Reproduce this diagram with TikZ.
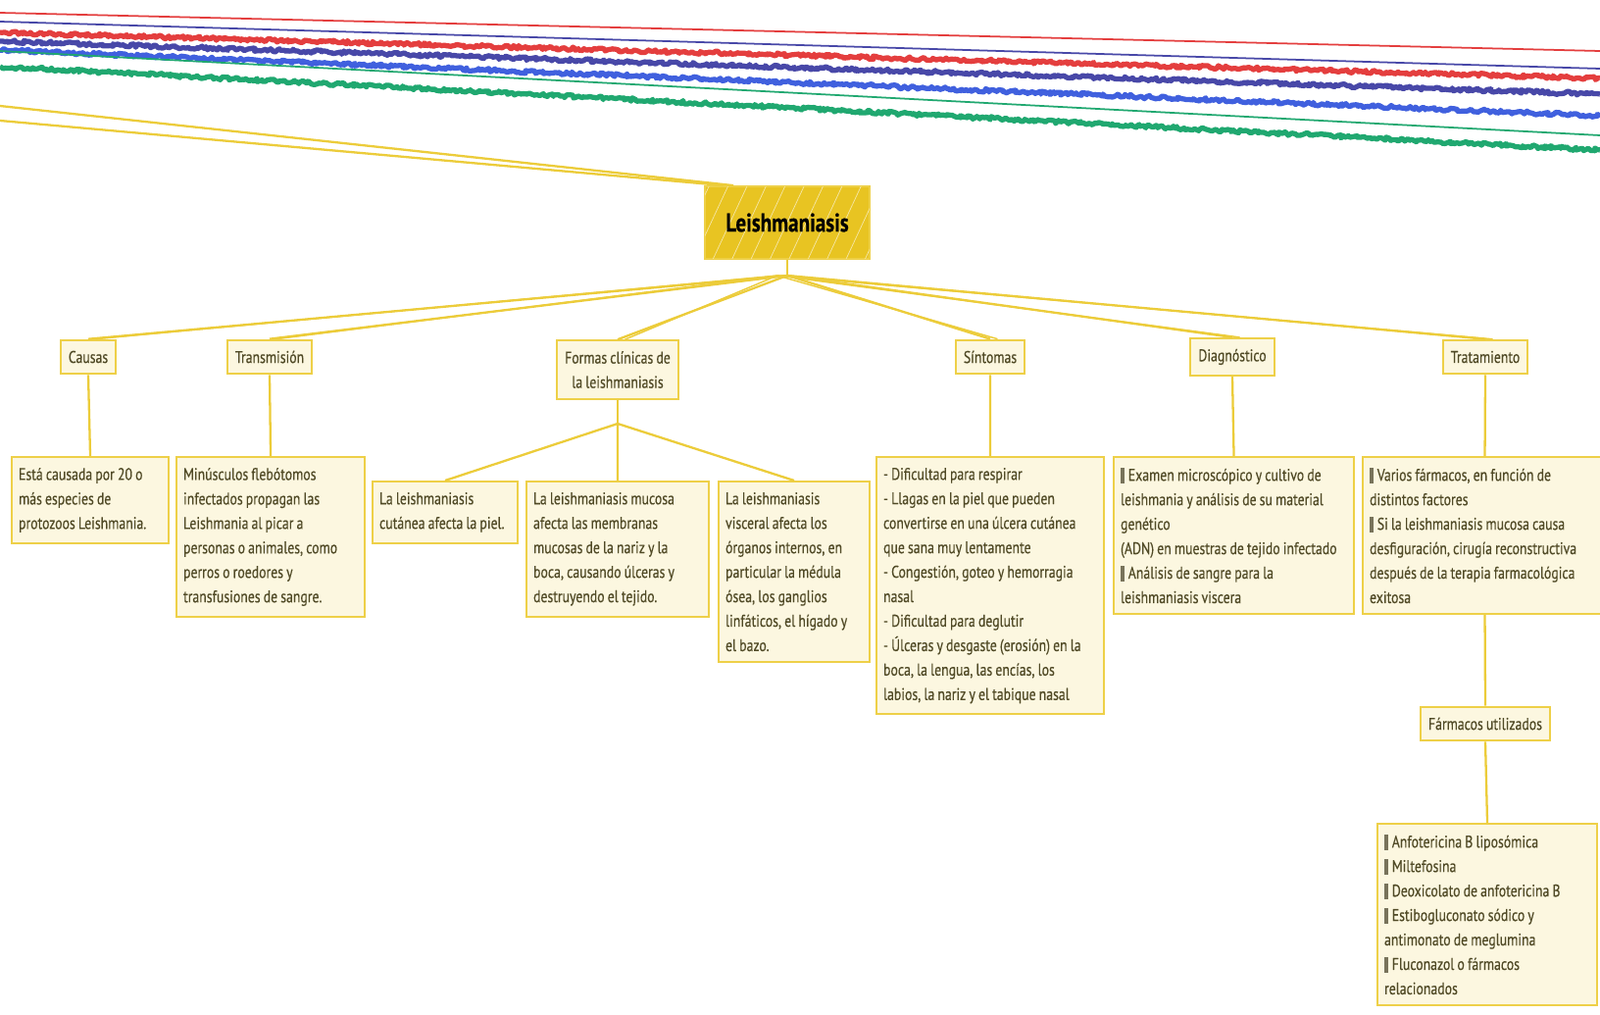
\documentclass[tikz,border=0pt]{standalone}
\usepackage{fontspec}
\setmainfont{PT Sans}[FakeStretch=0.8,WordSpace=0.85,FakeBold=0.4]
\usetikzlibrary{positioning,patterns.meta,decorations.pathmorphing}
\definecolor{mapgold}{RGB}{232,196,34}
\definecolor{mapedge}{RGB}{238,208,72}
\definecolor{mapfill}{RGB}{252,247,224}
\definecolor{maptext}{RGB}{80,74,38}
\definecolor{linkcol}{RGB}{236,204,58}
\definecolor{bulcol}{RGB}{120,115,90}
\definecolor{topred}{RGB}{228,62,62}
\definecolor{topnavy}{RGB}{72,72,168}
\definecolor{topblue}{RGB}{64,96,222}
\definecolor{topgreen}{RGB}{32,168,112}
\newcommand{\bul}{\textcolor{bulcol}{\rule[-1.5pt]{2.4pt}{9pt}}\hspace{2pt}}

\begin{document}
\begin{tikzpicture}[x=0.02cm,y=-0.02cm,
    rootbox/.style={draw=mapedge, fill=mapgold, line width=1pt, text=black,
      font=\fontsize{15}{18}\selectfont\bfseries,
      minimum width=3.36cm, minimum height=1.48cm,
      postaction={pattern={Lines[angle=65,distance=10pt,line width=0.4pt]}, pattern color=mapgold!40!white}},
    topicbox/.style={draw=mapedge, fill=mapfill, line width=1.2pt, text=maptext,
      font=\fontsize{9.8}{14.2}\selectfont, inner xsep=0.16cm, inner ysep=0.22cm, align=center},
    notebox/.style={topicbox, inner xsep=0.14cm, align=flush left, anchor=north west},
    link/.style={draw=linkcol, line width=1.3pt},
    thinline/.style={line width=1pt},
    jagged/.style={line width=3pt, line join=round, decorate,
      decoration={random steps, segment length=1.2pt, amplitude=1pt}}]
  \useasboundingbox (0,0) rectangle (1632,1034);
  \fill[white] (0,0) rectangle (1632,1034);

  % lines leaving the page at the top
  \draw[thinline, topred] (0,13) -- (1632,52);
  \draw[thinline, topnavy] (0,22) -- (1632,70);
  \draw[jagged, topred] (0,33) -- (1632,80);
  \draw[jagged, topnavy] (0,42) -- (1632,96);
  \draw[jagged, topblue] (0,51) -- (1632,118);
  \draw[thinline, topgreen] (0,52) -- (1632,138);
  \draw[jagged, topgreen] (0,68) -- (1632,153);

  % central topic
  \node[rootbox] (root) at (803,227) {Leishmaniasis};
  \coordinate (offA) at (0,108);
  \coordinate (offB) at (0,123);
  \draw[link] ([xshift=0.6cm]root.north west) -- (offA);
  \draw[link] ([xshift=0.4cm]root.north west) -- (offB);

  % main branches
  \node[topicbox] (causas) at (90,364) {Causas};
  \node[topicbox] (transmision) at (275,364) {Transmisión};
  \node[topicbox] (formas) at (630,377) {Formas clínicas de\\la leishmaniasis};
  \node[topicbox] (sintomas) at (1010,364) {Síntomas};
  \node[topicbox] (diagnostico) at (1257,364) {Diagnóstico};
  \node[topicbox] (tratamiento) at (1515,364) {Tratamiento};

  \coordinate (fan) at (803,281);
  \draw[link] (root.south) -- (fan);
  \foreach \c in {causas,transmision,formas,sintomas,diagnostico,tratamiento} {
    \draw[link] (fan) -- (\c.north);
    \draw[link, line width=0.8pt] ([xshift=-0.2cm]fan) -- ([xshift=0.15cm]\c.north);
  }

  % notes
  \node[notebox, text width=2.92cm] (causasnote) at (11,465)
    {Está causada por 20 o\\más especies de\\protozoos Leishmania.};
  \node[notebox, text width=3.56cm] (transnote) at (179,465)
    {Minúsculos flebótomos\\infectados propagan las\\Leishmania al picar a\\personas o animales, como\\perros o roedores y\\transfusiones de sangre.};
  \node[notebox, text width=2.68cm] (cutnote) at (379,490)
    {La leishmaniasis\\cutánea afecta la piel.};
  \node[notebox, text width=3.44cm] (mucnote) at (536,490)
    {La leishmaniasis mucosa\\afecta las membranas\\mucosas de la nariz y la\\boca, causando úlceras y\\destruyendo el tejido.};
  \node[notebox, text width=2.80cm] (viscnote) at (732,490)
    {La leishmaniasis\\visceral afecta los\\órganos internos, en\\particular la médula\\ósea, los ganglios\\linfáticos, el hígado y\\el bazo.};
  \node[notebox, text width=4.36cm] (sintnote) at (893,465)
    {- Dificultad para respirar\\- Llagas en la piel que pueden\\convertirse en una úlcera cutánea\\que sana muy lentamente\\- Congestión, goteo y hemorragia\\nasal\\- Dificultad para deglutir\\- Úlceras y desgaste (erosión) en la\\boca, la lengua, las encías, los\\labios, la nariz y el tabique nasal};
  \node[notebox, text width=4.62cm] (diagnote) at (1135,465)
    {\bul Examen microscópico y cultivo de\\leishmania y análisis de su material\\genético\\(ADN) en muestras de tejido infectado\\\bul Análisis de sangre para la\\leishmaniasis viscera};
  \node[notebox, text width=4.70cm] (tratnote) at (1389,465)
    {\bul Varios fármacos, en función de\\distintos factores\\\bul Si la leishmaniasis mucosa causa\\desfiguración, cirugía reconstructiva\\después de la terapia farmacológica\\exitosa};
  \node[topicbox] (farmacos) at (1515,738) {Fármacos utilizados};
  \node[notebox, text width=4.20cm] (farmnote) at (1404,839)
    {\bul Anfotericina B liposómica\\\bul Miltefosina\\\bul Deoxicolato de anfotericina B\\\bul Estibogluconato sódico y\\antimonato de meglumina\\\bul Fluconazol o fármacos\\relacionados};

  % links to the notes
  \draw[link] (causas.south) -- (causasnote.north);
  \draw[link] (transmision.south) -- (transnote.north);
  \coordinate (split) at (630,432);
  \draw[link] (formas.south) -- (split);
  \draw[link] (split) -- (cutnote.north);
  \draw[link] (split) -- (mucnote.north);
  \draw[link] (split) -- (viscnote.north);
  \draw[link] (sintomas.south) -- (sintnote.north);
  \draw[link] (diagnostico.south) -- (diagnote.north);
  \draw[link] (tratamiento.south) -- (tratnote.north);
  \draw[link] (tratnote.south) -- (farmacos.north);
  \draw[link] (farmacos.south) -- (farmnote.north);
\end{tikzpicture}
\end{document}
